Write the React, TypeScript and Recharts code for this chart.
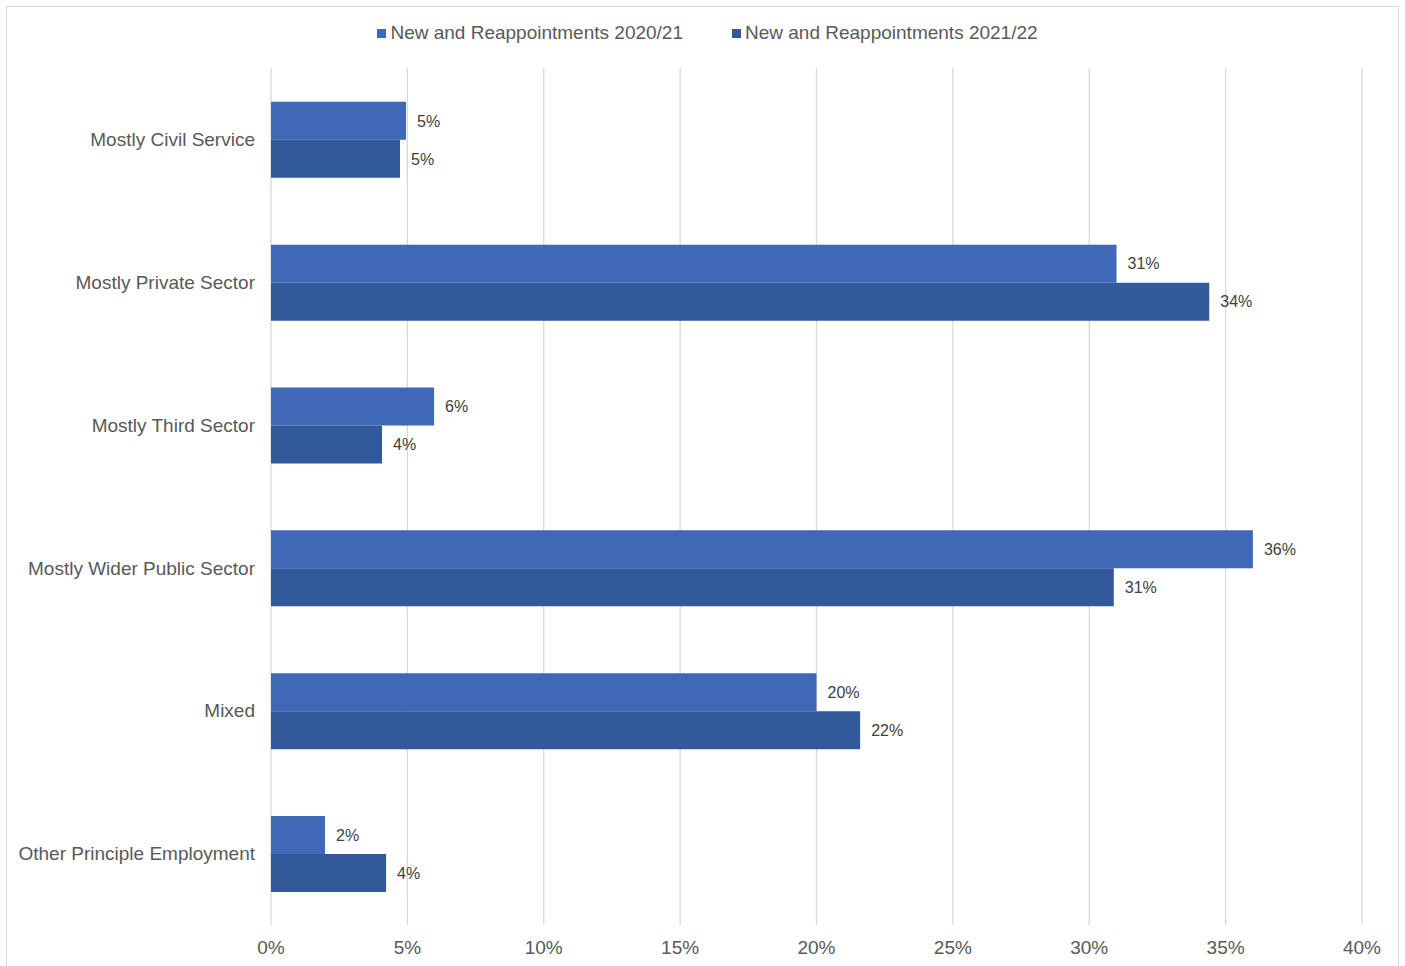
import React from "react";
import { BarChart, Bar, XAxis, YAxis, CartesianGrid, LabelList } from "recharts";

const categories = [
  "Mostly Civil Service",
  "Mostly Private Sector",
  "Mostly Third Sector",
  "Mostly Wider Public Sector",
  "Mixed",
  "Other Principle Employment",
];
const values2021 = [4.95, 31.0, 5.98, 36.0, 20.0, 1.98];
const values2122 = [4.73, 34.4, 4.07, 30.9, 21.6, 4.22];
const seriesNames = ["New and Reappointments 2020/21", "New and Reappointments 2021/22"];
const xTicks = [0, 5, 10, 15, 20, 25, 30, 35, 40];

const COLORS = ["#3f69b6", "#325999"];
const FONT = "'Liberation Sans', Arial, sans-serif";

const data = categories.map((c, i) => ({ name: c, a: values2021[i], b: values2122[i] }));

const LegendBox = () => (
  <div
    style={{
      position: "absolute",
      left: 5,
      top: 21,
      width: 1405,
      height: 24,
      display: "flex",
      justifyContent: "center",
      alignItems: "center",
      fontFamily: FONT,
      fontSize: 19,
      color: "#595959",
      whiteSpace: "nowrap",
    }}
  >
    {seriesNames.map((n, i) => (
      <div key={n} style={{ display: "flex", alignItems: "center", marginLeft: i ? 49 : 0 }}>
        <span style={{ width: 9, height: 9, background: COLORS[i], display: "inline-block", marginRight: 4 }} />
        <span>{n}</span>
      </div>
    ))}
  </div>
);

export default function App() {
  return (
    <div style={{ position: "absolute", left: 0, top: 0, width: 1405, height: 966, background: "#fff", overflow: "hidden" }}>
      <div style={{ position: "absolute", left: 6, top: 6, width: 1393, height: 980, border: "1px solid #d9d9d9", boxSizing: "border-box" }} />
      <div style={{ position: "absolute", left: 0, top: 0 }}>
        <BarChart
          width={1405}
          height={966}
          data={data}
          layout="vertical"
          margin={{ top: 68, right: 43, bottom: 0, left: 0 }}
          barCategoryGap="23.7%"
          barGap={0}
        >
          <CartesianGrid horizontal={false} stroke="#d9d9d9" strokeWidth={1.3} />
          <XAxis
            type="number"
            domain={[0, 40]}
            ticks={xTicks}
            tickFormatter={(v: number) => `${v}%`}
            axisLine={false}
            tickLine={false}
            tickMargin={10}
            height={41}
            tick={{ fontFamily: FONT, fontSize: 19, fill: "#595959" }}
            interval={0}
          />
          <YAxis
            type="category"
            dataKey="name"
            width={271}
            axisLine={false}
            tickLine={false}
            tickMargin={10}
            tick={{ fontFamily: FONT, fontSize: 19, fill: "#595959" }}
            interval={0}
          />
          <Bar dataKey="a" name={seriesNames[0]} fill={COLORS[0]} isAnimationActive={false}>
            <LabelList
              dataKey="a"
              position="right"
              offset={11}
              formatter={(v: number) => `${Math.round(v)}%`}
              style={{ fontFamily: FONT, fontSize: 16, fill: "#404040" }}
            />
          </Bar>
          <Bar dataKey="b" name={seriesNames[1]} fill={COLORS[1]} isAnimationActive={false}>
            <LabelList
              dataKey="b"
              position="right"
              offset={11}
              formatter={(v: number) => `${Math.round(v)}%`}
              style={{ fontFamily: FONT, fontSize: 16, fill: "#404040" }}
            />
          </Bar>
        </BarChart>
      </div>
      <LegendBox />
    </div>
  );
}
